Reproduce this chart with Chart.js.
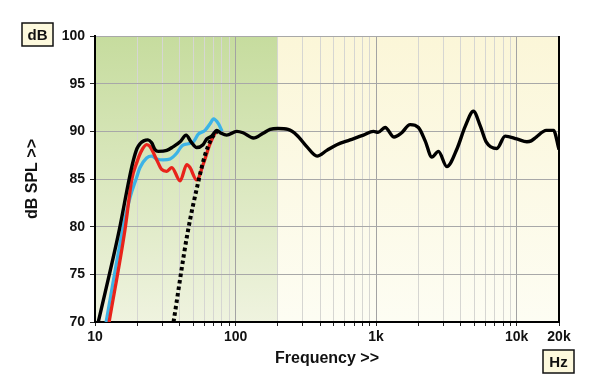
<!DOCTYPE html>
<html><head><meta charset="utf-8">
<script src="https://cdn.jsdelivr.net/npm/chart.js@4/dist/chart.umd.min.js"></script>
<style>html,body{margin:0;padding:0;background:#fff}#wrap{width:600px;height:389px}</style>
</head><body><div id="wrap"><canvas id="c" width="600" height="389"></canvas></div>
<script>
// ---- data ----
const blackFreq = [10.55,14.9,17.5,18.7,19.9,20.9,22.2,23.8,25.3,26.7,28.2,32.4,36.1,40.3,44.5,48.2,52.9,58.7,62.4,67.7,73.5,78.9,86.5,102,113,134,157,176,200,236,273,321,380,446,525,653,812,957,1033,1159,1343,1507,1746,2000,2233,2490,2775,3184,3770,4296,4924,5496,6064,7225,8280,10020,11820,12680,13770,16220,18280,20000];
const blackDb   = [70,79.7,85,86.9,88.2,88.7,89.0,89.1,88.8,88.1,87.9,88.0,88.4,88.9,89.6,88.9,88.3,88.6,89.2,89.5,90.1,89.8,89.6,90.0,89.85,89.3,89.8,90.2,90.3,90.2,89.6,88.4,87.4,88.0,88.6,89.1,89.6,90.0,89.9,90.4,89.4,89.8,90.7,90.4,89.0,87.3,87.9,86.3,88.2,90.5,92.1,90.6,88.9,88.2,89.5,89.2,88.9,89.0,89.4,90.1,90.1,88.1];
const redFreq = [12.6,16.35,18.3,19.9,21.5,23.3,24.6,27.5,29.8,32.4,35.2,40.3,45,47.4,52.9,59,65.9,71.5,75];
const redDb   = [70,79.7,85,86.8,88.0,88.6,88.4,87.0,86.0,85.8,86.2,84.8,86.5,86.2,84.9,86.6,88.7,89.8,90.1];
const blueFreq = [12.0,15.75,17.7,19.6,20.9,23.3,25.3,27.5,30.6,34.2,38.1,41.6,46.1,50.1,54.3,60.6,65.9,69.7,75.5,80.2];
const blueDb   = [70,79.7,83.0,85.0,86.2,87.2,87.4,87.1,87.0,87.1,87.7,88.5,88.7,88.9,89.7,90.1,90.8,91.3,90.8,90.0];
const dotFreq = [36.2,45.5,54.3,60.6,67.7,73.8];
const dotDb   = [70,79.3,84.7,87.5,89.3,90.0];

const xTickValues = [10,20,30,40,50,60,70,80,90,100,200,300,400,500,600,700,800,900,1000,2000,3000,4000,5000,6000,7000,8000,9000,10000,20000];
const xTickLabels = {10:'10',100:'100',1000:'1k',10000:'10k',20000:'20k'};
const yMin = 70, yMax = 100, yStep = 5;
const shadeEnd = 200;
const xTitle = 'Frequency >>', yTitle = 'dB SPL >>', yUnit = 'dB', xUnit = 'Hz';

const pts = (f, d) => f.map((v, i) => ({x: v, y: d[i]}));
const FONT = "'Liberation Sans', Arial, sans-serif";

const bgPlugin = {
  id: 'bg',
  beforeDraw(chart) {
    const {ctx, chartArea: a, scales: {x}} = chart;
    const xs = x.getPixelForValue(shadeEnd);
    ctx.save();
    let g = ctx.createLinearGradient(0, a.top, 0, a.bottom);
    g.addColorStop(0, '#c6dc9e'); g.addColorStop(1, '#eff3df');
    ctx.fillStyle = g; ctx.fillRect(a.left, a.top, xs - a.left, a.bottom - a.top);
    g = ctx.createLinearGradient(0, a.top, 0, a.bottom);
    g.addColorStop(0, '#fbf6d8'); g.addColorStop(1, '#fdfdf3');
    ctx.fillStyle = g; ctx.fillRect(xs, a.top, a.right - xs, a.bottom - a.top);
    ctx.restore();
  },
  afterDraw(chart) {
    const {ctx, chartArea: a} = chart;
    ctx.save();
    ctx.strokeStyle = '#000'; ctx.lineWidth = 2;
    ctx.beginPath(); ctx.moveTo(a.right, a.top); ctx.lineTo(a.right, a.bottom + 1); ctx.stroke();
    const box = (x, y, w, h, t) => {
      ctx.fillStyle = '#fdf9dd'; ctx.fillRect(x, y, w, h);
      ctx.strokeStyle = '#111'; ctx.lineWidth = 1.5; ctx.strokeRect(x, y, w, h);
      ctx.fillStyle = '#111'; ctx.font = 'bold 15px ' + FONT;
      ctx.textAlign = 'center'; ctx.textBaseline = 'middle';
      ctx.fillText(t, x + w / 2, y + h / 2 + 1);
    };
    box(a.left - 73, a.top - 13, 31, 23, yUnit);
    box(a.right - 16, a.bottom + 28, 31, 23, xUnit);
    ctx.restore();
  }
};

new Chart(document.getElementById('c'), {
  type: 'line',
  data: {
    datasets: [
      {data: pts(blackFreq, blackDb), borderColor: '#000', borderWidth: 3.4},
      {data: pts(dotFreq, dotDb), borderColor: '#000', borderWidth: 4, borderDash: [3.5, 3]},
      {data: pts(redFreq, redDb), borderColor: '#e8231b', borderWidth: 3.3},
      {data: pts(blueFreq, blueDb), borderColor: '#3cb3e6', borderWidth: 3.3}
    ]
  },
  options: {
    responsive: false, animation: false, devicePixelRatio: 1,
    layout: {padding: {top: 36, right: 41, left: 0, bottom: 0}},
    elements: {point: {radius: 0}, line: {cubicInterpolationMode: 'monotone', borderCapStyle: 'butt', borderJoinStyle: 'round'}},
    plugins: {legend: {display: false}, tooltip: {enabled: false}},
    scales: {
      x: {
        type: 'logarithmic', min: 10, max: 20000,
        afterFit(s) { s.height = 67; },
        afterBuildTicks(s) { s.ticks = xTickValues.map(v => ({value: v})); },
        ticks: {autoSkip: false, maxRotation: 0, padding: 3, color: '#111',
          font: {family: FONT, size: 14, weight: 'bold'},
          callback: v => xTickLabels[v] || ''},
        grid: {color: c => (c.tick && [10, 100, 1000, 10000].includes(c.tick.value)) ? '#a3a3a3' : '#d6d6d2',
          lineWidth: 1, tickColor: '#222', tickLength: 4, drawTicks: true},
        border: {display: true, color: '#000', width: 2},
        title: {display: true, text: xTitle, color: '#111', font: {family: FONT, size: 16, weight: 'bold'}, padding: {top: 0, bottom: 21}}
      },
      y: {
        min: yMin, max: yMax,
        afterFit(s) { s.width = 95; },
        ticks: {stepSize: yStep, padding: 5, color: '#111', font: {family: FONT, size: 14, weight: 'bold'}},
        grid: {color: '#a8a8a8', lineWidth: 1, tickColor: '#222', tickLength: 5, drawTicks: true},
        border: {display: true, color: '#000', width: 2},
        title: {display: true, text: yTitle, color: '#111', font: {family: FONT, size: 16, weight: 'bold'}, padding: {top: 23, bottom: 0}}
      }
    }
  },
  plugins: [bgPlugin]
});
</script></body></html>
